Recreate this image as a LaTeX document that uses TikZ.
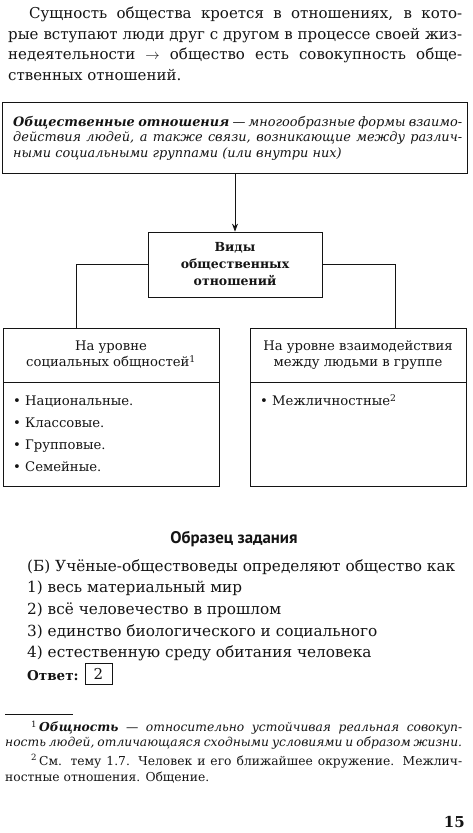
\documentclass[tikz,border=0pt]{standalone}
\usepackage{fontspec}
\setmainfont{DejaVu Serif}
\newfontfamily\headfont{PT Sans}
\usetikzlibrary{arrows.meta}
\definecolor{ink}{gray}{0.08}
\newcommand{\myjust}[2]{\makebox[#1][s]{#2}}
\tikzset{
  ln/.style={inner sep=0pt, anchor=base west, text=ink},
  cn/.style={inner sep=0pt, anchor=base, text=ink},
  ptext/.style={ln, font=\fontsize{15}{17}\selectfont},
  btext/.style={ln, font=\fontsize{12.9}{15}\selectfont\itshape},
  vtext/.style={cn, font=\fontsize{12.5}{15}\selectfont\bfseries},
  htext/.style={cn, font=\fontsize{13.2}{15}\selectfont},
  itext/.style={ln, font=\fontsize{13.2}{15}\selectfont},
  ttext/.style={ln, font=\fontsize{15.3}{17}\selectfont},
  ftext/.style={ln, font=\fontsize{12.3}{14}\selectfont},
  box/.style={draw=ink, line width=0.8pt, inner sep=0pt},
  conn/.style={draw=ink, line width=0.8pt},
  arr/.style={conn, -{Stealth[length=8pt,width=6pt]}},
}
\begin{document}
\begin{tikzpicture}[x=1pt,y=-1pt]
\useasboundingbox (0,0) rectangle (472,833);

% intro paragraph
\node[ptext] (p1) at (29,18.5) {\myjust{433pt}{Сущность общества кроется в отношениях, в кото-}};
\node[ptext] (p2) at (8,39) {\myjust{454pt}{рые вступают люди друг с другом в процессе своей жиз-}};
\node[ptext] (p3) at (8,59.5) {\myjust{454pt}{недеятельности $\rightarrow$ общество есть совокупность обще-}};
\node[ptext] (p4) at (8,80) {ственных отношений.};

% boxes
\node[box, minimum width=465pt, minimum height=71pt] (top) at (235,137.5) {};
\node[box, minimum width=174pt, minimum height=65pt] (vid) at (235,264.5) {};
\node[box, minimum width=216pt, minimum height=54pt] (lhead) at (111,355) {};
\node[box, minimum width=216pt, minimum height=104pt] (lbody) at (111,434) {};
\node[box, minimum width=216pt, minimum height=54pt] (rhead) at (358,355) {};
\node[box, minimum width=216pt, minimum height=104pt] (rbody) at (358,434) {};
\coordinate (lj) at (76,328);
\coordinate (rj) at (395,328);

% connectors
\draw[arr] (top.south) -- (vid.north);
\draw[conn] (vid.west) -| (lj);
\draw[conn] (vid.east) -| (rj);

% top box text
\node[btext] (t1) at (13,126) {\myjust{449pt}{\textbf{Общественные отношения} — многообразные формы взаимо-}};
\node[btext] (t2) at (13,141.7) {\myjust{449pt}{действия людей, а также связи, возникающие между различ-}};
\node[btext] (t3) at (13,157) {ными социальными группами (или внутри них)};

% vid text
\node[vtext] (v1) at (235,251.7) {Виды};
\node[vtext] (v2) at (235,268.3) {общественных};
\node[vtext] (v3) at (235,285) {отношений};

% headers
\node[htext] (lh1) at (111,350) {На уровне};
\node[htext] (lh2) at (111,366.7) {социальных общностей\textsuperscript{1}};
\node[htext] (rh1) at (358,350) {На уровне взаимодействия};
\node[htext] (rh2) at (358,366.7) {между людьми в группе};

% list items
\node[itext] (l1) at (13,405.7) {• Национальные.};
\node[itext] (l2) at (13,427.3) {• Классовые.};
\node[itext] (l3) at (13,449.3) {• Групповые.};
\node[itext] (l4) at (13,471) {• Семейные.};
\node[itext] (r1) at (260,405.7) {• Межличностные\textsuperscript{2}};

% task
\node[cn, font=\headfont\bfseries\fontsize{16.8}{19}\selectfont] (head) at (234,543) {Образец задания};
\node[ttext] (q0) at (27,571) {(Б) Учёные-обществоведы определяют общество как};
\node[ttext] (q1) at (27,592.7) {1) весь материальный мир};
\node[ttext] (q2) at (27,614) {2) всё человечество в прошлом};
\node[ttext] (q3) at (27,636) {3) единство биологического и социального};
\node[ttext] (q4) at (27,657) {4) естественную среду обитания человека};
\node[ttext, font=\fontsize{13.5}{17}\selectfont\bfseries] (ans) at (27,680) {Ответ:};
\node[box, minimum width=27pt, minimum height=21pt, text=ink, font=\fontsize{15}{17}\selectfont] (ansbox) at (98.5,673.5) {2};

% footnotes
\draw[ink, line width=0.8pt] (5,714) -- (73,714);
\node[ftext] (f1a) at (31,731.7) {\myjust{431pt}{\textsuperscript{1}\,\textbf{\textit{Общность}} — \textit{относительно устойчивая реальная совокуп-}}};
\node[ftext] (f1b) at (5,746.7) {\myjust{457pt}{\textit{ность людей, отличающаяся сходными условиями и образом жизни.}}};
\node[ftext] (f2a) at (31,765) {\myjust{431pt}{\textsuperscript{2}\,См. тему 1.7. Человек и его ближайшее окружение. Межлич-}};
\node[ftext] (f2b) at (5,781.7) {ностные отношения. Общение.};

\node[inner sep=0pt, anchor=base east, text=ink, font=\fontsize{15}{18}\selectfont\bfseries] (pg) at (465,827.7) {15};
\end{tikzpicture}
\end{document}
